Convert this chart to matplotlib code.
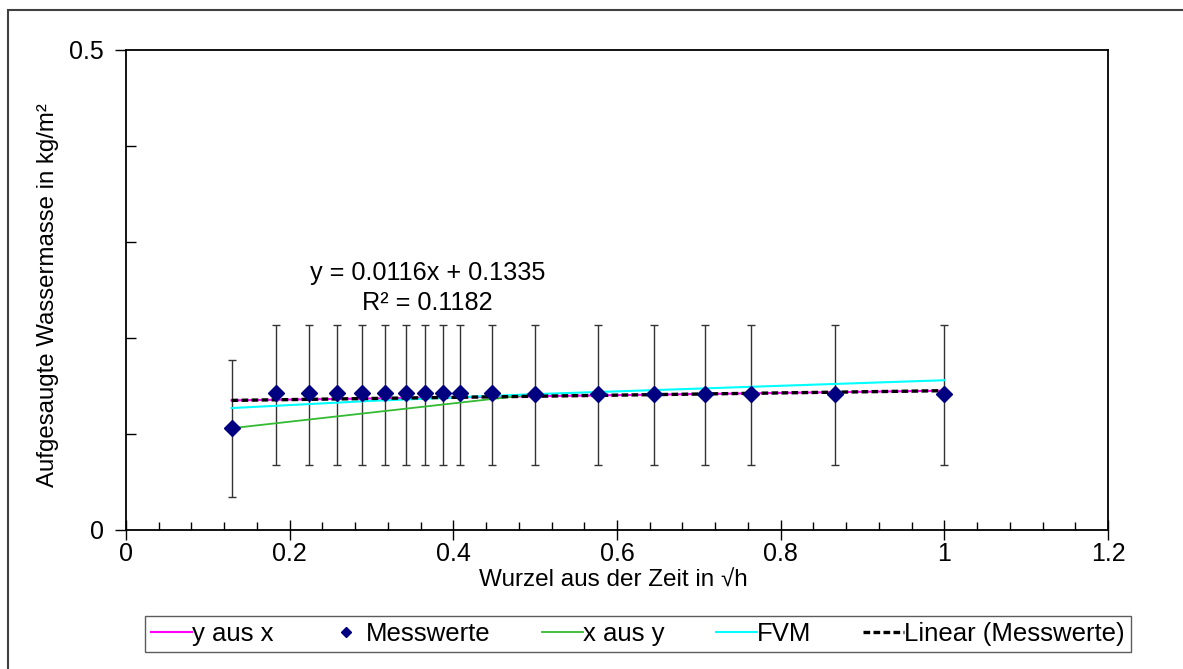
import numpy as np
import matplotlib.pyplot as plt
from matplotlib.patches import Rectangle
from matplotlib.ticker import MultipleLocator

plt.rcParams['font.family'] = ['Liberation Sans', 'DejaVu Sans']

# Messwerte (Wurzel aus der Zeit in sqrt(h), Wassermasse in kg/m²)
x_mess = [0.129, 0.183, 0.224, 0.258, 0.289, 0.316, 0.342, 0.365, 0.387,
          0.408, 0.447, 0.500, 0.577, 0.645, 0.707, 0.764, 0.866, 1.000]
y_mess = [0.106, 0.1425, 0.1425, 0.1425, 0.1425, 0.1425, 0.1425, 0.1425, 0.1425,
          0.1425, 0.1422, 0.142, 0.1418, 0.1417, 0.1417, 0.1416, 0.1415, 0.1412]
err_lo = [0.072, 0.0745, 0.0745, 0.0745, 0.0745, 0.0745, 0.0745, 0.0745, 0.0745,
          0.0745, 0.0742, 0.074, 0.0738, 0.0737, 0.0737, 0.0736, 0.0735, 0.0732]
err_hi = [0.0714, 0.071, 0.071, 0.071, 0.071, 0.071, 0.071, 0.071, 0.071,
          0.071, 0.0713, 0.0715, 0.0717, 0.0718, 0.0718, 0.0719, 0.072, 0.0723]

# Regressionen / Simulation
x_yx = [0.129, 1.0]
y_yx = [0.1350, 0.1451]
x_xy = [0.129, 0.49]
y_xy = [0.106, 0.1405]
x_fvm = [0.129, 0.3, 0.5, 0.707, 1.0]
y_fvm = [0.127, 0.1345, 0.1415, 0.1475, 0.156]
x_lin = [0.129, 1.0]
y_lin = [0.1350, 0.1451]

fig = plt.figure(figsize=(11.83, 6.69), dpi=100)
ax = fig.add_axes([0.1065, 0.2078, 0.8301, 0.7175])

ax.errorbar(x_mess, y_mess, yerr=[err_lo, err_hi], fmt='none',
            ecolor='#333333', elinewidth=1, capsize=2.7, capthick=1, zorder=2)
l1, = ax.plot(x_yx, y_yx, color='#ff00ff', lw=1.5, zorder=3)
l3, = ax.plot(x_xy, y_xy, color='#33bb33', lw=1.3, zorder=3)
l4, = ax.plot(x_fvm, y_fvm, color='#00ffff', lw=1.5, zorder=3)
l5, = ax.plot(x_lin, y_lin, color='black', lw=2.4, dashes=(2, 1), zorder=4)
l2, = ax.plot(x_mess, y_mess, 'D', color='#000080', ms=8, ls='none', zorder=5)

ax.set_xlim(0, 1.2)
ax.set_ylim(0, 0.5)
ax.xaxis.set_major_locator(MultipleLocator(0.2))
ax.xaxis.set_minor_locator(MultipleLocator(0.04))
ax.yaxis.set_major_locator(MultipleLocator(0.5))
ax.yaxis.set_minor_locator(MultipleLocator(0.1))
ax.xaxis.set_major_formatter(plt.FuncFormatter(lambda v, p: f'{v:g}'))
ax.yaxis.set_major_formatter(plt.FuncFormatter(lambda v, p: f'{v:g}'))
ax.tick_params(axis='x', which='major', direction='inout', length=14, width=1, labelsize=18, pad=2)
ax.tick_params(axis='x', which='minor', direction='in', length=6, width=1)
ax.tick_params(axis='y', which='major', direction='out', length=8, width=1, labelsize=18, pad=8)
ax.tick_params(axis='y', which='minor', direction='in', length=7, width=1)
for s in ax.spines.values():
    s.set_linewidth(1.3)

ax.set_xlabel('Wurzel aus der Zeit in √h', fontsize=17.5)
ax.xaxis.set_label_coords(0.496, -0.083)
ax.xaxis.label.set_va('top')
ax.set_ylabel('Aufgesaugte Wassermasse in kg/m²', fontsize=17.3)
ax.yaxis.set_label_coords(-0.0794, 0.49)
ax.yaxis.label.set_va('center')

ax.text(0.3687, 0.2675, 'y = 0.0116x + 0.1335', ha='center', va='center', fontsize=18.2)
ax.text(0.3687, 0.2365, 'R² = 0.1182', ha='center', va='center', fontsize=18.2)

leg = fig.legend([l1, l2, l3, l4, l5],
                 ['y aus x', 'Messwerte', 'x aus y', 'FVM', 'Linear (Messwerte)'],
                 loc='center', bbox_to_anchor=(638 / 1183, 1 - 634 / 669),
                 ncol=5, fontsize=18.5, frameon=True, fancybox=False,
                 edgecolor='#333333', handlelength=1.6, handletextpad=0.0,
                 columnspacing=2.0, borderpad=0.25, markerscale=0.65)
leg.get_frame().set_linewidth(1)

fig.patches.append(Rectangle((8 / 1183, -0.01), 1.0, 1 - 10 / 669 + 0.01,
                             transform=fig.transFigure, fill=False,
                             edgecolor='#404040', lw=1.5))

fig.savefig('out.png', dpi=100)
